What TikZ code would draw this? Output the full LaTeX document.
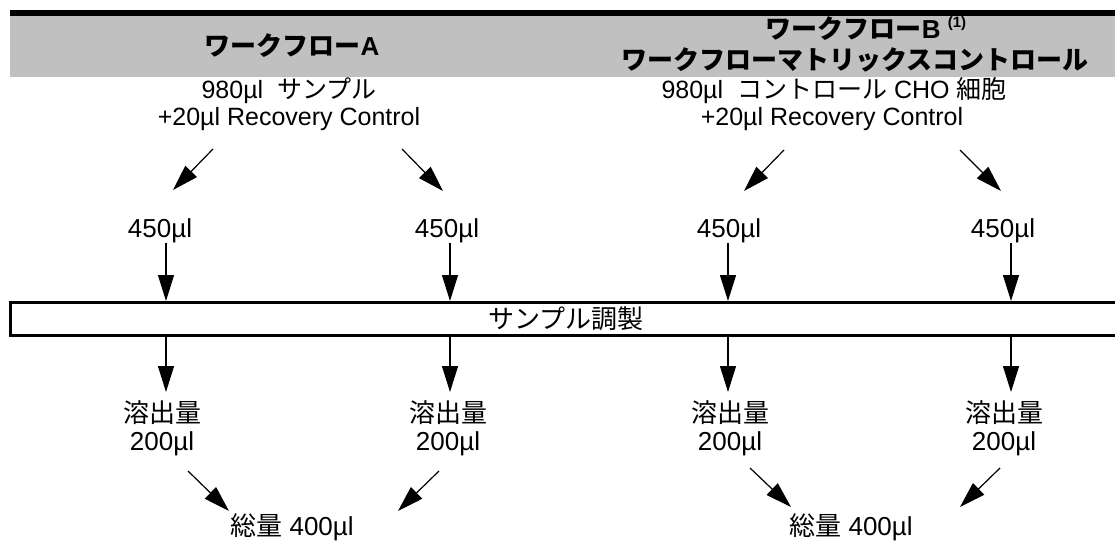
\documentclass[tikz,border=0pt]{standalone}
\usepackage{fontspec}
\setmainfont{Liberation Sans}
\newfontfamily\jp{Noto Sans CJK JP}
\usetikzlibrary{arrows.meta}
\definecolor{hdrgray}{RGB}{192,192,192}
\begin{document}
\begin{tikzpicture}[x=1pt,y=-1pt,
  lbl/.style={inner sep=0pt,anchor=base,font=\fontsize{26}{30}\selectfont},
  toplbl/.style={inner sep=0pt,anchor=base,font=\fontsize{25}{30}\selectfont},
  hdr/.style={inner sep=0pt,anchor=base,font=\fontsize{26}{30}\selectfont\bfseries},
  flow/.style={line width=1.2pt,-{Triangle[length=26pt,width=16pt]}}
]
\useasboundingbox (0,0) rectangle (1115,543);
% header band
\fill[hdrgray] (10,16) rectangle (1115,77);
\fill[black] (10,10) rectangle (1115,16);
\node[hdr] (hA) at (292,56) {{\jp ワークフロー}A};
\node[hdr] (hB1) at (866,38) {{\jp ワークフロー}B\ \raisebox{0.42em}{\fontsize{15}{15}\selectfont(1)}};
\node[hdr] (hB2) at (855,69) {\jp ワークフローマトリックスコントロール};
% sources
\node[toplbl] (sA1) at (289,98) {980µl\ \ {\jp サンプル}};
\node[toplbl] (sA2) at (289,125) {+20µl Recovery Control};
\node[toplbl] (sB1) at (834,98) {980µl\ \ {\jp コントロール} CHO {\jp 細胞}};
\node[toplbl] (sB2) at (832,125) {+20µl Recovery Control};
% 450 labels
\node[lbl] (vA) at (160,237) {450µl};
\node[lbl] (vB) at (447,237) {450µl};
\node[lbl] (vC) at (729,237) {450µl};
\node[lbl] (vD) at (1003,237) {450µl};
% box
\draw[line width=3pt] (1120,302) -- (10.5,302) -- (10.5,335) -- (1120,335);
\node[lbl] (boxt) at (566,328) {\jp サンプル調製};
% elution labels
\node[lbl] (eA1) at (162,422) {\jp 溶出量};
\node[lbl] (eA2) at (162,450) {200µl};
\node[lbl] (eB1) at (448,422) {\jp 溶出量};
\node[lbl] (eB2) at (448,450) {200µl};
\node[lbl] (eC1) at (730,422) {\jp 溶出量};
\node[lbl] (eC2) at (730,450) {200µl};
\node[lbl] (eD1) at (1004,422) {\jp 溶出量};
\node[lbl] (eD2) at (1004,450) {200µl};
% totals
\node[lbl] (tA) at (292,535) {{\jp 総量} 400µl};
\node[lbl] (tB) at (851,535) {{\jp 総量} 400µl};
% arrow end points
\coordinate (dA0) at (213,149); \coordinate (dA1) at (173,190);
\coordinate (dB0) at (402,149); \coordinate (dB1) at (443,191);
\coordinate (dC0) at (784,150); \coordinate (dC1) at (744,191);
\coordinate (dD0) at (960,150); \coordinate (dD1) at (1001,191);
\coordinate (uA0) at (166,243); \coordinate (uA1) at (166,301);
\coordinate (uB0) at (450,243); \coordinate (uB1) at (450,301);
\coordinate (uC0) at (728,243); \coordinate (uC1) at (728,301);
\coordinate (uD0) at (1011,243); \coordinate (uD1) at (1011,301);
\coordinate (lA0) at (166,336); \coordinate (lA1) at (166,392);
\coordinate (lB0) at (450,336); \coordinate (lB1) at (450,392);
\coordinate (lC0) at (728,336); \coordinate (lC1) at (728,392);
\coordinate (lD0) at (1011,336); \coordinate (lD1) at (1011,392);
\coordinate (bA0) at (188,471); \coordinate (bA1) at (229,511);
\coordinate (bB0) at (439,471); \coordinate (bB1) at (398,511);
\coordinate (bC0) at (750,468); \coordinate (bC1) at (791,507);
\coordinate (bD0) at (1000,468); \coordinate (bD1) at (960,507);
\foreach \p in {dA,dB,dC,dD,uA,uB,uC,uD,lA,lB,lC,lD,bA,bB,bC,bD}
  \draw[flow] (\p0) -- (\p1);
\end{tikzpicture}
\end{document}
